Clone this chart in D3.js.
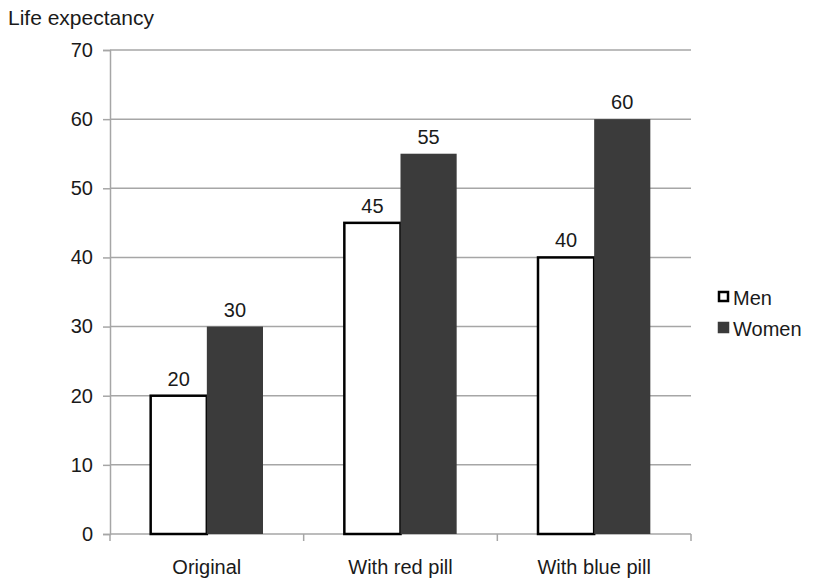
<html>
<script src="https://d3js.org/d3.v7.min.js"></script>
<style>
    body { margin: 0; background: #fff; }
    svg { font-family: "Liberation Sans", Arial, sans-serif; }
</style>
<svg width=813 height=580></svg>
<script>
    let categories = ['Original', 'With red pill', 'With blue pill'];
    let series = ['Men', 'Women'];
    let men = [20, 45, 40];
    let women = [30, 55, 60];
    let yTicks = [0, 10, 20, 30, 40, 50, 60, 70];

    let svg = d3.select('svg'),
        margin = { top: 50, right: 122, bottom: 46, left: 110 },
        width = +svg.attr('width') - margin.left - margin.right,
        height = +svg.attr('height') - margin.top - margin.bottom,
        g = svg.append('g').attr('transform', 'translate(' + margin.left + ',' + margin.top + ')');

    let colors = { Men: '#ffffff', Women: '#3b3b3b' };
    let values = { Men: men, Women: women };
    let fs = 20;

    let x0 = d3.scaleBand().domain(categories).range([0, width]).paddingInner(0.42).paddingOuter(0.21);
    let x1 = d3.scaleBand().domain(series).range([0, x0.bandwidth()]);
    let y = d3.scaleLinear().domain([0, 70]).range([height, 0]);

    // gridlines
    g.selectAll('.grid').data(yTicks.filter(d => d > 0))
      .enter().append('line')
        .attr('x1', 0).attr('x2', width)
        .attr('y1', d => y(d)).attr('y2', d => y(d))
        .attr('stroke', '#a6a6a6').attr('stroke-width', 1.5);

    // y axis
    let yAxis = g.append('g')
        .call(d3.axisLeft(y).tickValues(yTicks).tickSize(7).tickPadding(10));
    yAxis.select('.domain').attr('stroke', '#a6a6a6').attr('stroke-width', 1.5);
    yAxis.selectAll('.tick line').attr('stroke', '#a6a6a6').attr('stroke-width', 1.5);
    yAxis.selectAll('.tick text').attr('font-size', fs).attr('fill', '#1a1a1a').attr('font-family', 'inherit');

    // x axis (category boundaries as ticks)
    let xBounds = d3.range(categories.length + 1).map(i => i * width / categories.length);
    g.append('line').attr('x1', 0).attr('x2', width).attr('y1', height).attr('y2', height)
        .attr('stroke', '#a6a6a6').attr('stroke-width', 1.5);
    g.selectAll('.xtick').data(xBounds).enter().append('line')
        .attr('x1', d => d).attr('x2', d => d).attr('y1', height).attr('y2', height + 7)
        .attr('stroke', '#a6a6a6').attr('stroke-width', 1.5);
    g.selectAll('.xlabel').data(categories).enter().append('text')
        .attr('x', d => x0(d) + x0.bandwidth() / 2)
        .attr('y', height + 40)
        .attr('text-anchor', 'middle').attr('font-size', fs).attr('fill', '#1a1a1a')
        .text(d => d);

    // bars
    let groups = g.selectAll('.grp').data(categories).enter().append('g')
        .attr('transform', d => 'translate(' + x0(d) + ',0)');

    series.forEach(s => {
        groups.append('rect')
            .attr('x', x1(s))
            .attr('y', (d, i) => y(values[s][i]))
            .attr('width', x1.bandwidth())
            .attr('height', (d, i) => height - y(values[s][i]))
            .attr('fill', colors[s])
            .attr('stroke', s === 'Men' ? '#000' : 'none')
            .attr('stroke-width', 2.5);
        groups.append('text')
            .attr('x', x1(s) + x1.bandwidth() / 2)
            .attr('y', (d, i) => y(values[s][i]) - 10)
            .attr('text-anchor', 'middle').attr('font-size', fs).attr('fill', '#1a1a1a')
            .text((d, i) => values[s][i]);
    });

    // title
    svg.append('text').attr('x', 8).attr('y', 25).attr('font-size', 21).attr('fill', '#1a1a1a')
        .text('Life expectancy');

    // legend
    let legend = svg.append('g').attr('transform', 'translate(719,292)');
    series.forEach((s, i) => {
        legend.append('rect')
            .attr('x', 0).attr('y', i * 31)
            .attr('width', 9).attr('height', 9)
            .attr('fill', colors[s])
            .attr('stroke', s === 'Men' ? '#000' : '#3b3b3b')
            .attr('stroke-width', 2.5);
        legend.append('text')
            .attr('x', 14).attr('y', i * 31 + 13)
            .attr('font-size', fs).attr('fill', '#1a1a1a')
            .text(s);
    });
</script>
</html>
